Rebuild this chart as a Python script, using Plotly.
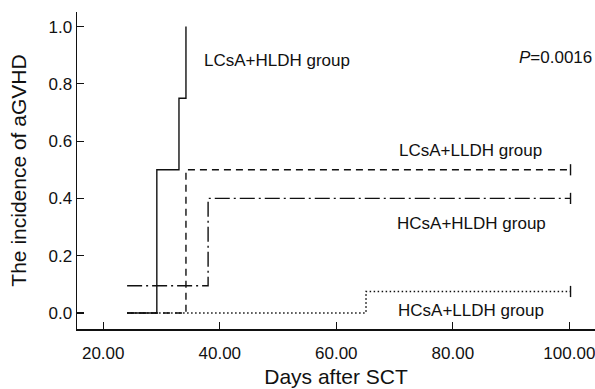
import plotly.graph_objects as go

# Data
t_lcsa_hldh = [24.1, 29.2, 33.0, 34.2]
y_lcsa_hldh = [0.0, 0.5, 0.75, 1.0]

t_lcsa_lldh = [24.1, 34.2, 100.2]
y_lcsa_lldh = [0.0, 0.5, 0.5]

t_hcsa_hldh = [24.1, 38.0, 100.2]
y_hcsa_hldh = [0.095, 0.4, 0.4]

t_hcsa_lldh = [24.1, 65.1, 100.2]
y_hcsa_lldh = [0.0, 0.075, 0.075]

x_ticks = [20, 40, 60, 80, 100]
y_ticks = [0.0, 0.2, 0.4, 0.6, 0.8, 1.0]

FONT = "Liberation Sans, Arial, Helvetica, sans-serif"
INK = "#111111"

fig = go.Figure()

def step(t, y, dash, width, censor):
    fig.add_trace(go.Scatter(
        x=t, y=y, mode="lines", line_shape="hv",
        line=dict(color=INK, width=width, dash=dash),
        showlegend=False, hoverinfo="skip"))
    if censor:
        fig.add_trace(go.Scatter(
            x=[t[-1]], y=[y[-1]], mode="markers",
            marker=dict(symbol="line-ns", size=8,
                        line=dict(color=INK, width=1.4)),
            showlegend=False, hoverinfo="skip"))

step(t_hcsa_lldh, y_hcsa_lldh, "1.5px,2.5px", 1.6, True)
step(t_hcsa_hldh, y_hcsa_hldh, "15px,4px,2px,4px", 1.4, True)
step(t_lcsa_lldh, y_lcsa_lldh, "7px,5px", 1.4, True)
step(t_lcsa_hldh, y_lcsa_hldh, "solid", 1.4, False)

labels = [
    ("LCsA+HLDH group", 36.9, 0.883),
    ("<i>P</i>=0.0016", 91.0, 0.892),
    ("LCsA+LLDH group", 70.4, 0.569),
    ("HCsA+HLDH group", 70.0, 0.311),
    ("HCsA+LLDH group", 70.2, 0.007),
]
for txt, x, y in labels:
    fig.add_annotation(x=x, y=y, text=txt, showarrow=False,
                       xanchor="left", yanchor="middle",
                       font=dict(family=FONT, size=17, color=INK))

fig.update_layout(
    width=595, height=389,
    margin=dict(l=77, r=0, t=12, b=60),
    paper_bgcolor="white", plot_bgcolor="white",
    font=dict(family=FONT, color=INK),
    xaxis=dict(
        range=[15.5, 104.4], tickvals=x_ticks, tickformat=".2f",
        ticks="inside", ticklen=7, tickwidth=1.2, tickcolor=INK,
        showline=True, linecolor=INK, linewidth=1.5,
        showgrid=False, zeroline=False, automargin=False,
        ticklabeloverflow="allow",
        tickfont=dict(family=FONT, size=17, color=INK),
        ticklabelstandoff=8,
        title=dict(text="Days after SCT", standoff=7,
                   font=dict(family=FONT, size=21, color=INK)),
    ),
    yaxis=dict(
        range=[-0.056, 1.051], tickvals=y_ticks, tickformat=".1f",
        ticks="inside", ticklen=7, tickwidth=1.2, tickcolor=INK,
        showline=True, linecolor=INK, linewidth=1.5,
        showgrid=False, zeroline=False, automargin=False,
        tickfont=dict(family=FONT, size=17, color=INK),
        ticklabelstandoff=0,
        title=dict(text="The incidence of aGVHD", standoff=16,
                   font=dict(family=FONT, size=21, color=INK)),
    ),
)

fig.write_html("out.html",
               config={"displayModeBar": False, "staticPlot": True},
               post_script="document.body.style.margin='0';document.body.style.overflow='hidden';")
